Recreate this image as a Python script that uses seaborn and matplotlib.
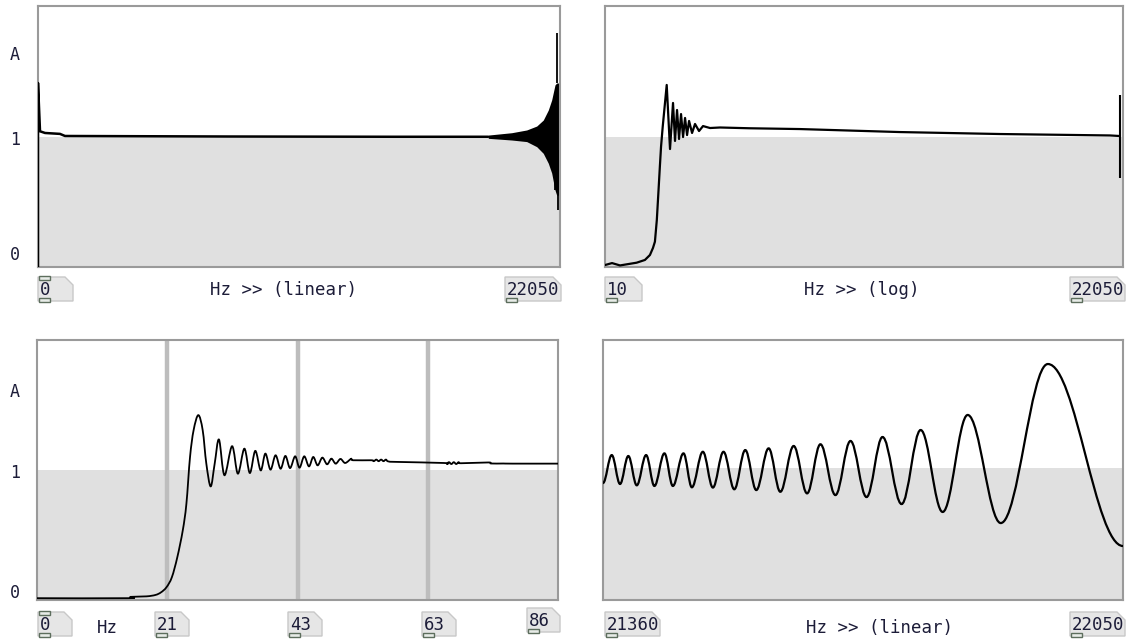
import numpy as np
import pandas as pd
import matplotlib
matplotlib.use("Agg")
import matplotlib.pyplot as plt
import seaborn as sns
from matplotlib.path import Path
from matplotlib.patches import PathPatch, Polygon, Rectangle

# ---- data ----
# top left: linear 0..22050 Hz
tl_hz = [0, 0, 85, 296, 929, 1140, 8000, 15000, 19021]
tl_amp = [0.0, 1.41, 1.04, 1.027, 1.02, 1.004, 1.0, 0.998, 0.998]
tl_env_hz = [19021, 20010, 20643, 21066, 21344, 21556, 21699, 21838, 21910, 22000]
tl_env_hi = [1.011, 1.029, 1.050, 1.080, 1.126, 1.203, 1.280, 1.395, 1.41, 1.41]
tl_env_lo = [0.986, 0.973, 0.961, 0.922, 0.871, 0.795, 0.720, 0.590, 0.55, 0.55]
tl_spike_hz = [21910, 21838, 21978]
tl_spike_lo = [1.41, 0.59, 0.437]
tl_spike_hi = [1.79, 0.80, 0.90]

# top right: log 10..22050 Hz
tr_hz = [10, 11.1, 12.5, 16.0, 18.1, 19.5, 20.4, 21.0, 21.6, 22.1, 22.6, 23.0, 23.58,
         25.02, 26.28, 27.48, 28.31, 29.17, 30.05, 30.96, 31.90, 32.86, 33.86, 34.88,
         36.47, 38.11, 40.45, 42.93, 47.62, 55.27, 86.33, 181.5, 802.5, 3548, 18197, 20800]
tr_amp = [0.015, 0.03, 0.012, 0.033, 0.054, 0.092, 0.146, 0.194, 0.36, 0.565, 0.769, 0.922, 1.075,
          1.395, 0.904, 1.257, 0.966, 1.203, 0.981, 1.172, 0.996, 1.142, 1.011, 1.119,
          1.027, 1.096, 1.042, 1.080, 1.065, 1.069, 1.063, 1.057, 1.034, 1.019, 1.008, 1.004]
tr_spike_hz = [21130]
tr_spike_lo = [0.682]
tr_spike_hi = [1.318]

# bottom left: linear 0..86 Hz
bl_hz = [0, 15.0, 15.38, 18.07, 19.57, 20.47, 21.37, 22.26, 23.16, 24.06, 24.66, 25.26,
         25.85, 26.63, 27.35, 27.95, 28.67, 29.33, 30.04, 30.94, 32.2, 33.16, 34.23, 35.13,
         36.03, 36.93, 37.70, 38.54, 39.38, 40.21, 41.0, 41.77, 42.61, 43.33, 44.11, 44.89,
         45.6, 46.32, 47.10, 47.88, 48.59, 49.31, 50.09, 50.87, 51.88, 52.18, 55.17, 55.6,
         56.0, 56.4, 56.8, 57.2, 57.6, 58.0, 59.66, 67.14, 67.6, 68.0, 68.4, 68.8, 69.2,
         69.6, 70.0, 74.5, 75.0, 77.0, 78.5, 86]
bl_amp = [0.014, 0.014, 0.024, 0.028, 0.039, 0.059, 0.098, 0.175, 0.329, 0.535, 0.740, 1.100,
          1.306, 1.422, 1.306, 1.049, 0.874, 1.049, 1.234, 0.960, 1.183, 0.972, 1.164, 0.977,
          1.147, 0.997, 1.126, 1.003, 1.113, 1.010, 1.108, 1.015, 1.105, 1.018, 1.105, 1.028,
          1.100, 1.036, 1.095, 1.044, 1.087, 1.049, 1.085, 1.054, 1.087, 1.075, 1.075, 1.068,
          1.080, 1.068, 1.080, 1.068, 1.080, 1.066, 1.062, 1.054, 1.046, 1.060, 1.046, 1.060,
          1.046, 1.060, 1.052, 1.058, 1.050, 1.050, 1.049, 1.049]
bl_marks = [21.5, 43, 64.5]

# bottom right: linear 21360..22050 Hz, peaks and troughs of the ripple
br_hz = [21360, 21371.6, 21382.6, 21393.6, 21404.8, 21417.2, 21428.2, 21441.5, 21452.7,
         21466.8, 21477.9, 21492.5, 21505.8, 21519.9, 21534.2, 21548.8, 21563.4, 21579.8,
         21595.3, 21613.0, 21630.8, 21648.5, 21668.4, 21688.4, 21709.7, 21730.9, 21756.2,
         21781.5, 21810.7, 21843.9, 21887.8, 21950.3, 22050]
br_amp = [0.886, 1.098, 0.879, 1.091, 0.869, 1.098, 0.864, 1.111, 0.864,
          1.111, 0.854, 1.123, 0.852, 1.123, 0.839, 1.136, 0.833, 1.149,
          0.820, 1.167, 0.808, 1.180, 0.795, 1.205, 0.780, 1.235, 0.727,
          1.288, 0.667, 1.402, 0.583, 1.788, 0.409]

W, H = 1133, 641
GRAY = "#e0e0e0"
FRAME = "#9a9a9a"
INK = "#1c1c38"

sns.set_theme(style="white")
plt.rcParams["font.family"] = ["DejaVu Sans Mono", "DejaVu Sans"]

fig = plt.figure(figsize=(W / 100, H / 100), dpi=100)


def add_panel(x0, y0, x1, y1):
    ax = fig.add_axes([x0 / W, 1 - y1 / H, (x1 - x0) / W, (y1 - y0) / H])
    for sp in ax.spines.values():
        sp.set_color(FRAME)
        sp.set_linewidth(1.5)
        sp.set_zorder(1)
    ax.set_xticks([])
    ax.set_yticks([])
    return ax


def finish(ax):
    ax.set_xlabel("")
    ax.set_ylabel("")
    if ax.get_legend():
        ax.get_legend().remove()


def smooth_path(xs, ys, mode="flat"):
    # bezier drawing between the read points
    verts = [(xs[0], ys[0])]
    codes = [Path.MOVETO]
    n = len(xs)
    for i in range(n - 1):
        xa, ya, xb, yb = xs[i], ys[i], xs[i + 1], ys[i + 1]
        if mode == "flat":
            dx = xb - xa
            c1, c2 = (xa + 0.37 * dx, ya), (xb - 0.37 * dx, yb)
        else:
            xp, yp = (xs[i - 1], ys[i - 1]) if i > 0 else (xa, ya)
            xn, yn = (xs[i + 2], ys[i + 2]) if i + 2 < n else (xb, yb)
            c1 = (xa + (xb - xp) / 6, ya + (yb - yp) / 6)
            c2 = (xb - (xn - xa) / 6, yb - (yn - ya) / 6)
        verts += [c1, c2, (xb, yb)]
        codes += [Path.CURVE4] * 3
    return Path(verts, codes)


# top left
ax = add_panel(38, 6, 560, 267)
ax.set_xlim(0, 22050)
ax.set_ylim(0, 2.0)
ax.axhspan(0, 1, color=GRAY, lw=0, zorder=0)
sns.lineplot(x=tl_hz, y=tl_amp, ax=ax, color="black", lw=1.8, estimator=None, sort=False)
ax.fill_between(tl_env_hz, tl_env_lo, tl_env_hi, color="black", lw=0)
ax.vlines(tl_spike_hz, tl_spike_lo, tl_spike_hi, color="black", lw=1.3)
finish(ax)

# top right
ax = add_panel(605, 6, 1123, 267)
ax.set_xscale("log")
ax.set_xlim(10, 22050)
ax.set_ylim(0, 2.0)
ax.axhspan(0, 1, color=GRAY, lw=0, zorder=0)
sns.lineplot(x=tr_hz, y=tr_amp, ax=ax, color="black", lw=1.6, estimator=None, sort=False)
ax.vlines(tr_spike_hz, tr_spike_lo, tr_spike_hi, color="black", lw=1.5)
ax.set_xticks([])
ax.minorticks_off()
finish(ax)

# bottom left
ax = add_panel(37, 340, 558, 600)
ax.set_xlim(0, 86)
ax.set_ylim(0, 2.0)
ax.axhspan(0, 1, color=GRAY, lw=0, zorder=0)
ax.vlines(bl_marks, 0, 2.0, color="#bdbdbd", lw=3.2, zorder=1)
ax.add_patch(PathPatch(smooth_path(bl_hz, bl_amp, "cr"), facecolor="none",
                       edgecolor="black", lw=1.3, zorder=3))

# bottom right: ripple between extrema with flat tangents
ax = add_panel(603, 340, 1123, 600)
ax.set_xlim(21360, 22050)
ax.set_ylim(0, 1.97)
ax.axhspan(0, 1, color=GRAY, lw=0, zorder=0)
ax.add_patch(PathPatch(smooth_path(br_hz, br_amp, "flat"), facecolor="none",
                       edgecolor="black", lw=1.6, zorder=3))


# pd style number boxes
def numbox(x, y, w, text, inlet=False, outlet=True, h=24):
    c = 8
    pts = [(x, y), (x + w - c, y), (x + w, y + c), (x + w, y + h), (x, y + h)]
    pts = [(px / W, 1 - py / H) for px, py in pts]
    fig.patches.append(Polygon(pts, closed=True, transform=fig.transFigure,
                               facecolor="#e6e6e6", edgecolor="#c8c8c8", lw=1))
    fig.text((x + 2) / W, 1 - (y + h / 2 + 1) / H, text, ha="left", va="center",
             fontsize=12.5, color=INK)
    for on, yy in [(inlet, y - 1), (outlet, y + h - 3)]:
        if on:
            fig.patches.append(Rectangle(((x + 1) / W, 1 - (yy + 4) / H), 11 / W, 4 / H,
                                         transform=fig.transFigure, facecolor="#e8ece8",
                                         edgecolor="#5d6e5d", lw=1))


numbox(38, 277, 35, "0", inlet=True)
numbox(505, 277, 56, "22050")
numbox(605, 277, 37, "10")
numbox(1070, 277, 55, "22050")
numbox(38, 612, 34, "0", inlet=True)
numbox(155, 612, 34, "21")
numbox(288, 612, 34, "43")
numbox(422, 612, 34, "63")
numbox(527, 608, 33, "86")
numbox(605, 612, 55, "21360")
numbox(1070, 612, 55, "22050")

fig.text(283 / W, 1 - 290 / H, "Hz >> (linear)", ha="center", va="center", fontsize=12.5, color=INK)
fig.text(862 / W, 1 - 290 / H, "Hz >> (log)", ha="center", va="center", fontsize=12.5, color=INK)
fig.text(107 / W, 1 - 628 / H, "Hz", ha="center", va="center", fontsize=12.5, color=INK)
fig.text(880 / W, 1 - 628 / H, "Hz >> (linear)", ha="center", va="center", fontsize=12.5, color=INK)

for lab, py in [("A", 55), ("1", 140), ("0", 255), ("A", 392), ("1", 473), ("0", 593)]:
    fig.text(15 / W, 1 - py / H, lab, ha="center", va="center", fontsize=12, color=INK)

fig.savefig("out.png", dpi=100)
